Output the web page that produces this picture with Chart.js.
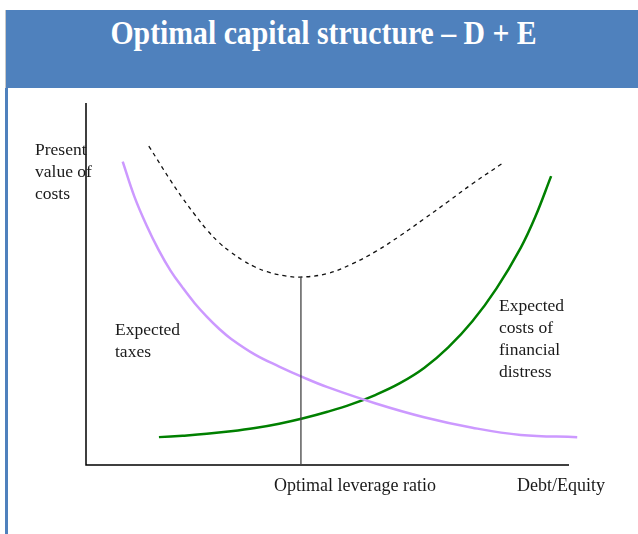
<!DOCTYPE html>
<html>
<head>
<meta charset="utf-8">
<script src="https://cdn.jsdelivr.net/npm/chart.js@4.4.0/dist/chart.umd.min.js"></script>
<style>
  html, body { margin: 0; padding: 0; background: #fff; }
  #wrap { position: relative; width: 638px; height: 534px; overflow: hidden; font-family: "Liberation Serif", "DejaVu Serif", serif; }
  #band { position: absolute; left: 5px; top: 10px; width: 633px; height: 78px; background: #4F81BD; border-left: 1px solid #c8c8c8; }
  #leftline { position: absolute; left: 5px; top: 88px; width: 3px; height: 446px; background: #4F81BD; }
  #title { position: absolute; left: 0; top: 13px; width: 648px; text-align: center; color: #fff; font-weight: bold; font-size: 34px; line-height: 40px; white-space: nowrap; }
  #title span { display: inline-block; transform: scaleX(0.875); }
  canvas { position: absolute; left: 0; top: 0; }
  .lbl { position: absolute; font-size: 17.5px; line-height: 22px; color: #1a1a1a; white-space: nowrap; }
  .axl { font-size: 18px; }
</style>
</head>
<body>
<div id="wrap">
  <div id="band"></div>
  <div id="leftline"></div>
  <div id="title"><span>Optimal capital structure – D + E</span></div>
  <canvas id="c" width="638" height="534"></canvas>
  <div class="lbl" style="left:35px;top:138px;">Present<br>value of<br>costs</div>
  <div class="lbl" style="left:115px;top:318px;">Expected<br>taxes</div>
  <div class="lbl" style="left:499px;top:294px;">Expected<br>costs of<br>financial<br>distress</div>
  <div class="lbl axl" style="left:274px;top:474px;">Optimal leverage ratio</div>
  <div class="lbl axl" style="left:517px;top:474px;">Debt/Equity</div>
</div>
<script>
// Debt/Equity positions (0-10 units) and present value of costs (0-10 units)
const taxesX = [0.76, 1.0, 1.25, 1.5, 1.75, 2.0, 2.25, 2.5, 2.75, 3.0, 3.5, 4.0, 4.5, 5.0, 6.0, 7.0, 8.0, 9.0, 10.17];
const taxesY = [8.38, 7.42, 6.63, 5.95, 5.37, 4.90, 4.47, 4.10, 3.77, 3.49, 3.05, 2.72, 2.42, 2.15, 1.70, 1.32, 1.03, 0.83, 0.77];

const distressX = [1.51, 2.0, 2.5, 3.0, 3.5, 4.0, 4.5, 5.0, 5.5, 6.0, 6.5, 7.0, 7.5, 8.0, 8.5, 9.0, 9.3, 9.63];
const distressY = [0.77, 0.81, 0.86, 0.93, 1.02, 1.14, 1.29, 1.47, 1.68, 1.94, 2.26, 2.68, 3.25, 3.97, 4.88, 6.00, 6.85, 7.98];

const totalX = [1.30, 1.75, 2.0, 2.25, 2.5, 2.75, 3.0, 3.25, 3.5, 3.75, 4.1, 4.43, 5.0, 5.5, 6.0, 6.5, 7.0, 7.5, 8.0, 8.63];
const totalY = [8.81, 7.86, 7.37, 6.92, 6.50, 6.15, 5.88, 5.65, 5.47, 5.34, 5.23, 5.19, 5.29, 5.55, 5.90, 6.33, 6.80, 7.28, 7.77, 8.34];

const optimalRatio = 4.45;
const minTotalCost = 5.19;

const pts = (xs, ys) => xs.map((x, i) => ({ x: x, y: ys[i] }));

const axesPlugin = {
  id: 'axes',
  beforeDatasetsDraw(chart) {
    const { ctx, chartArea: a } = chart;
    ctx.save();
    ctx.strokeStyle = '#000';
    ctx.lineWidth = 1.5;
    ctx.beginPath();
    ctx.moveTo(a.left, a.top);
    ctx.lineTo(a.left, a.bottom);
    ctx.lineTo(a.right, a.bottom);
    ctx.stroke();
    ctx.restore();
  }
};

new Chart(document.getElementById('c'), {
  type: 'scatter',
  data: {
    datasets: [
      {
        label: 'Optimal',
        data: [{ x: optimalRatio, y: 0 }, { x: optimalRatio, y: minTotalCost }],
        showLine: true, borderColor: '#444', borderWidth: 1.3, pointRadius: 0, tension: 0, clip: false
      },
      {
        label: 'Expected taxes',
        data: pts(taxesX, taxesY),
        showLine: true, borderColor: '#CC99FF', borderWidth: 2.5, pointRadius: 0,
        tension: 0.4, clip: false
      },
      {
        label: 'Expected costs of financial distress',
        data: pts(distressX, distressY),
        showLine: true, borderColor: '#008000', borderWidth: 2.5, pointRadius: 0,
        tension: 0.4, clip: false
      },
      {
        label: 'Total',
        data: pts(totalX, totalY),
        showLine: true, borderColor: '#111', borderWidth: 1.3, borderDash: [4, 4], pointRadius: 0,
        tension: 0.4, clip: false
      }
    ]
  },
  options: {
    responsive: false,
    animation: false,
    layout: { padding: { left: 86, top: 103, right: 69, bottom: 69 } },
    plugins: { legend: { display: false }, tooltip: { enabled: false } },
    scales: {
      x: { type: 'linear', min: 0, max: 10, display: false },
      y: { type: 'linear', min: 0, max: 10, display: false }
    }
  },
  plugins: [axesPlugin]
});
</script>
</body>
</html>
